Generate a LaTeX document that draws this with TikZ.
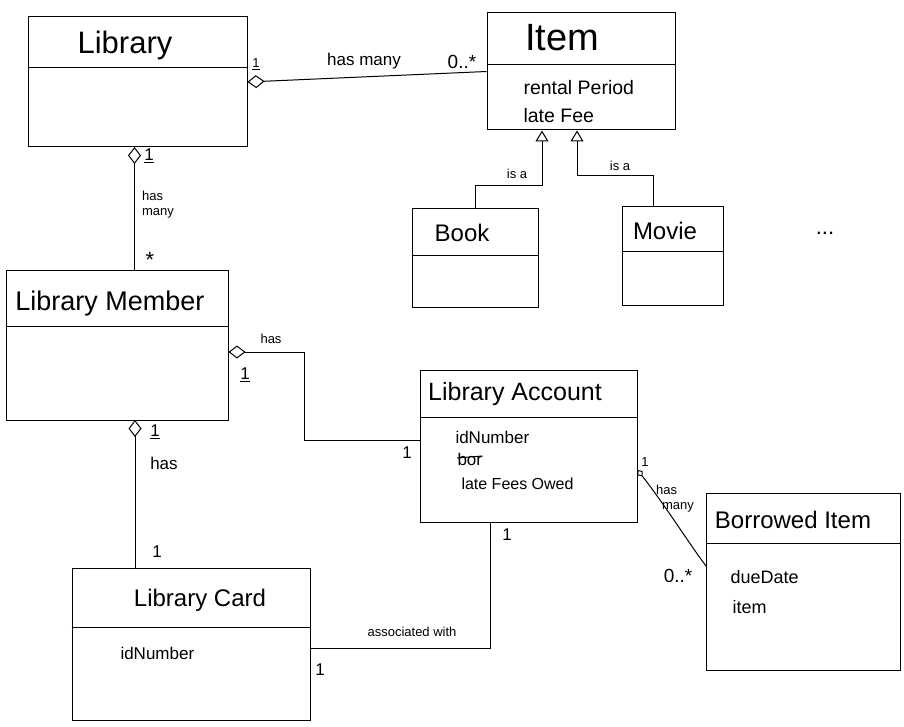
\documentclass[tikz,border=0pt]{standalone}
\usepackage{fontspec}
\setmainfont{Liberation Sans}
\usetikzlibrary{arrows.meta}
\begin{document}
\begin{tikzpicture}[x=1pt,y=-1pt,line width=1pt,
  cls/.style={draw, line width=1pt, inner sep=0pt},
  div/.style={line width=1pt},
  title/.style={inner sep=0pt, font=\fontsize{24}{28}\selectfont},
  attr/.style={anchor=west, inner sep=0pt, font=\fontsize{17}{20}\selectfont},
  lbl/.style={inner sep=0pt, font=\fontsize{17}{20}\selectfont},
  small/.style={inner sep=0pt, font=\fontsize{13}{15}\selectfont},
  link/.style={line width=1pt},
  agg/.style={line width=1pt, {Diamond[open,length=17pt,width=13pt]}-},
  aggs/.style={line width=1pt, {Diamond[open,length=8pt,width=7pt]}-},
  gen/.style={line width=1pt, -{Triangle[open,length=11pt,width=13pt]}}]
\useasboundingbox (0,0) rectangle (904,727);

% ---------- classes ----------
\node[cls, minimum width=219pt, minimum height=130pt] (lib) at (137.5,82) {};
\draw[div] (lib.west |- 0,68) -- (lib.east |- 0,68);
\node[title, font=\fontsize{31}{34}\selectfont] (libT) at (125,45) {Library};

\node[cls, minimum width=188pt, minimum height=117pt] (item) at (581,71.5) {};
\draw[div] (item.west |- 0,65) -- (item.east |- 0,65);
\node[title, font=\fontsize{38}{42}\selectfont] (itemT) at (562,38) {Item};
\node[attr, font=\fontsize{19.5}{22}\selectfont] (itemA1) at (523,88) {rental Period};
\node[attr, font=\fontsize{19.5}{22}\selectfont] (itemA2) at (523,116) {late Fee};

\node[cls, minimum width=126pt, minimum height=98pt] (book) at (475,258) {};
\draw[div] (book.west |- 0,255) -- (book.east |- 0,255);
\node[title] (bookT) at (462,233) {Book};

\node[cls, minimum width=101pt, minimum height=98pt] (movie) at (672.5,256) {};
\draw[div] (movie.west |- 0,252) -- (movie.east |- 0,252);
\node[title] (movieT) at (665,231) {Movie};

\node[lbl, font=\fontsize{22}{24}\selectfont] (dots) at (825,233) {...};

\node[cls, minimum width=222pt, minimum height=150pt] (mem) at (117,345) {};
\draw[div] (mem.west |- 0,326) -- (mem.east |- 0,326);
\node[title, font=\fontsize{27}{30}\selectfont] (memT) at (110,304) {Library Member};

\node[cls, minimum width=217pt, minimum height=152pt] (acc) at (528.5,446) {};
\draw[div] (acc.west |- 0,417) -- (acc.east |- 0,417);
\node[title, font=\fontsize{25}{28}\selectfont] (accT) at (515,394) {Library Account};
\node[attr] (accA1) at (455,437) {idNumber};
\node[attr] (accA2) at (457,459) {bor};
\draw[line width=1pt] ([yshift=1pt]accA2.west) -- ([yshift=3pt]accA2.east);
\node[attr, font=\fontsize{16}{19}\selectfont] (accA3) at (461,484) {late Fees Owed};

\node[cls, minimum width=194pt, minimum height=177pt] (bi) at (803.5,581.5) {};
\draw[div] (bi.west |- 0,543) -- (bi.east |- 0,543);
\node[title] (biT) at (793,520) {Borrowed Item};
\node[attr, font=\fontsize{18}{21}\selectfont] (biA1) at (730,577) {dueDate};
\node[attr, font=\fontsize{18}{21}\selectfont] (biA2) at (732,607) {item};

\node[cls, minimum width=238pt, minimum height=152pt] (card) at (191,644) {};
\draw[div] (card.west |- 0,627) -- (card.east |- 0,627);
\node[title] (cardT) at (200,600) {Library Card};
\node[attr] (cardA1) at (120,653) {idNumber};

% ---------- Library -- Item ----------
\draw[agg] (lib.east) -- (item.west);
\node[small] (m1) at (256,64) {\underline{1}};
\node[lbl] (l1) at (364,61) {has many};
\node[lbl, font=\fontsize{19}{22}\selectfont] (m2) at (462,62) {0..*};

% ---------- Library -- LibraryMember ----------
\draw[agg] (134.5,147) -- (134.5,270);
\node[lbl] (m3) at (149,156) {\underline{1}};
\node[small, align=left] (l2) at (158,205) {has\\many};
\node[lbl, font=\fontsize{22}{24}\selectfont] (m4) at (150,260) {*};

% ---------- LibraryMember -- LibraryAccount ----------
\coordinate (b1) at (304,352);
\coordinate (b2) at (304,440);
\draw[agg] (mem.east |- b1) -- (b1) -- (b2) -- (acc.west |- b2);
\node[small] (l3) at (271,339) {has};
\node[lbl] (m5) at (245,375) {\underline{1}};
\node[lbl] (m6) at (407,453) {1};

% ---------- LibraryMember -- LibraryCard ----------
\draw[agg] (135,420) -- (135,568);
\node[lbl] (m7) at (155,432) {\underline{1}};
\node[lbl] (l4) at (164,463) {has};
\node[lbl] (m8) at (157,552) {1};

% ---------- LibraryCard -- LibraryAccount ----------
\coordinate (b3) at (490,648);
\draw[link] (card.east |- b3) -- (b3) -- (acc.south -| b3);
\node[small] (l5) at (412,632) {associated with};
\node[lbl] (m9) at (320,670) {1};
\node[lbl] (m10) at (507,535) {1};

% ---------- LibraryAccount -- BorrowedItem ----------
\coordinate (b4) at (acc.east |- 0,470);
\coordinate (b5) at (bi.west |- 0,566);
\draw[aggs] (b4) .. controls (665,505) and (690,545) .. (b5);
\node[small] (m11) at (645,462) {1};
\node[small, align=left] (l6) at (675,499) {has\\\hspace*{6pt}many};
\node[lbl, font=\fontsize{19}{22}\selectfont] (m12) at (678,576) {0..*};

% ---------- Book / Movie -- Item ----------
\coordinate (b6) at (475,186);
\coordinate (b7) at (542,186);
\draw[gen] (book.north -| b6) -- (b6) -- (b7) -- (item.south -| b7);
\node[small] (l7) at (517,174) {is a};

\coordinate (b8) at (653,176);
\coordinate (b9) at (577,176);
\draw[gen] (movie.north -| b8) -- (b8) -- (b9) -- (item.south -| b9);
\node[small] (l8) at (620,166) {is a};
\end{tikzpicture}
\end{document}
